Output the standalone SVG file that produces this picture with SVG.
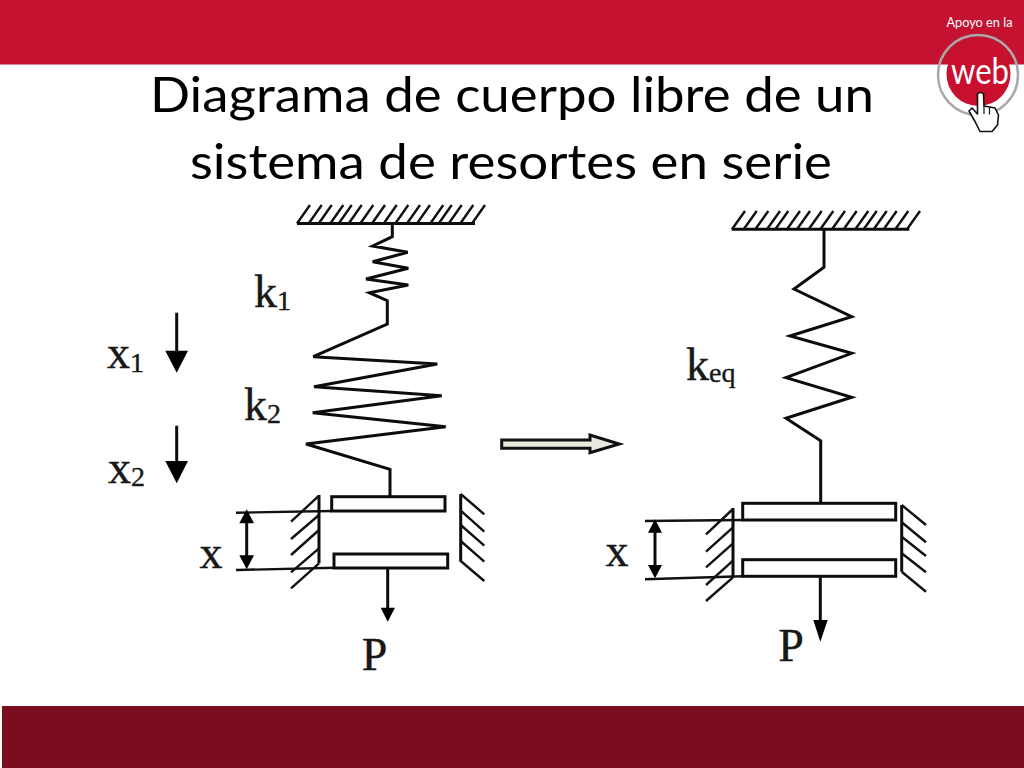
<svg xmlns="http://www.w3.org/2000/svg" width="1024" height="768" viewBox="0 0 1024 768">
<style>
.ln{fill:none;stroke:#0c0c0c;stroke-width:3;stroke-linejoin:miter;stroke-linecap:butt}
.th{fill:none;stroke:#111;stroke-width:2.4}
.hd{fill:#000;stroke:none}
.pl{fill:#fff;stroke:#0c0c0c;stroke-width:3}
.lb{font-family:"Liberation Serif","Times New Roman",serif;fill:#181818;stroke:#181818;stroke-width:.4;font-size:46px}
.sb{font-size:28px}
.tt{font-family:Lato,"Open Sans",sans-serif;font-size:48px;fill:#000;text-anchor:middle}
</style>
<rect width="1024" height="768" fill="#fff"/>
<g id="header"><rect x="0" y="0" width="1024" height="64.500" fill="#c41230"/></g>
<g id="footer"><rect x="2" y="706" width="1022" height="62" fill="#7c0c1f"/></g>
<g id="title">
<text class="tt" x="512" y="112" textLength="724" lengthAdjust="spacingAndGlyphs">Diagrama de cuerpo libre de un</text>
<text class="tt" x="511" y="179" textLength="642" lengthAdjust="spacingAndGlyphs">sistema de resortes en serie</text>
</g>
<g id="logo">
<text x="946.500" y="27" font-family="Lato,'Open Sans',sans-serif" font-size="13.500" fill="#fff" textLength="66" lengthAdjust="spacingAndGlyphs">Apoyo en la</text>
<circle cx="978" cy="75" r="40" fill="none" stroke="#a9a9a9" stroke-width="2.500"/>
<circle cx="978.500" cy="74" r="32" fill="#c8102e"/>
<text x="980" y="84" font-family="Lato,'Open Sans',sans-serif" font-size="36" fill="#fff" text-anchor="middle" textLength="58" lengthAdjust="spacingAndGlyphs">web</text>
<path d="M977.500 94q3-3 6 0l.5 12 11 2 3.500 7-1 10-5.500 6.500h-12l-5-10-6-10.500 3-3 5.500 6z" fill="#fff" stroke="#111" stroke-width="1.600" stroke-linejoin="round"/>
<path d="M984 106v8M989.500 107.500v7" fill="none" stroke="#111" stroke-width="1.200"/>
</g>
<g id="connectors">
<g id="arrow-x1"><path class="ln" d="M176.700 312.700V352"/><polygon class="hd" points="165.300,350.700 188,350.700 176.700,372.700"/></g>
<g id="arrow-x2"><path class="ln" d="M176.700 425.700V463"/><polygon class="hd" points="165.300,461 188,461 176.700,483.300"/></g>
<g id="transform-arrow"><polygon points="501.700,440 590,440 590,435 619.300,444 590,452.700 590,448.300 501.700,448.300" fill="#e9e9df" stroke="#111" stroke-width="3"/></g>
<g id="dim-left">
<path class="th" d="M236 512.700L331.700 511M236 570L335 567.700"/>
<path class="ln" d="M246.700 520V558"/>
<polygon class="hd" points="246.700,509.300 239.300,523.300 254,523.300"/>
<polygon class="hd" points="239.300,555.300 254,555.300 246.700,569.300"/>
</g>
<g id="dim-right">
<path class="th" d="M645 521L742.700 520M645 579.300L742.700 576.300"/>
<path class="ln" d="M655 530V568"/>
<polygon class="hd" points="655,519.300 648,532.700 662,532.700"/>
<polygon class="hd" points="648,565 662,565 655,578.300"/>
</g>
<g id="load-left"><path class="ln" d="M387.700 568V609"/><polygon class="hd" points="380.700,607.700 395,607.700 387.700,621.700"/></g>
<g id="load-right"><path class="ln" d="M820.300 576V622"/><polygon class="hd" points="813.300,620 827.700,620 820.300,641.700"/></g>
</g>
<g id="ceiling-left">
<path class="ln" d="M297 223.500H475"/>
<path class="th" d="M297 223.500l13-18.500M308.700 223.500l13-18.500M318.700 223.500l13-18.500M330.300 223.500l13-18.500M338.700 223.500l13-18.500M348.700 223.500l13-18.500M360.300 223.500l13-18.500M372 223.500l13-18.500M383.700 223.500l13-18.500M395.300 223.500l13-18.500M407 223.500l13-18.500M417 223.500l13-18.500M430.300 223.500l13-18.500M438.700 223.500l13-18.500M448.700 223.500l13-18.500M460.300 223.500l13-18.500M472 223.500l13-18.500"/>
</g>
<g id="springs-series">
<path class="ln" d="M392.300 223V236.700L372.700 246L407.700 252.300L372.700 261.700L408.300 268.300L366 279L408.300 285L369.300 292.700L387.300 300.700V324L313.300 356.700L437.300 364L314 386.700L441.700 395.700L312.700 412.700L445.700 426.700L306 444L390 469.300V497"/>
</g>
<g id="plates-left">
<rect class="pl" x="331.700" y="496.700" width="113.300" height="14.300"/>
<rect class="pl" x="334" y="554" width="113.700" height="14"/>
</g>
<g id="walls-left">
<path class="ln" d="M319 495V563.300M460.700 494V561.700"/>
<path class="th" d="M319 495.700L291 521.700M319 515L291 539M319 530L291 555M319 548.300L291 572.300M319 563.300L291 588.300M460.700 494L484.300 514.300M460.700 510.700L484.300 531.700M460.700 525L484.300 545.700M460.700 541L484.300 561.700M460.700 561L484.300 581"/>
</g>
<g id="ceiling-right">
<path class="ln" d="M731.700 229.300H909.300"/>
<path class="th" d="M732 229.300l13-18.300M743.700 229.300l13-18.300M755.300 229.300l13-18.300M767 229.300l13-18.300M775.300 229.300l13-18.300M787 229.300l13-18.300M797 229.300l13-18.300M808.700 229.300l13-18.300M820.300 229.300l13-18.300M832 229.300l13-18.300M843.700 229.300l13-18.300M855.300 229.300l13-18.300M863.700 229.300l13-18.300M873.700 229.300l13-18.300M883.700 229.300l13-18.300M895.300 229.300l13-18.300M907 229.300l13-18.300"/>
</g>
<g id="spring-equivalent">
<path class="ln" d="M824 229.300V267.300L794 289L851.700 316.700L790 336L851.700 353.300L786 377.700L851.700 397.300L786 418.300L820.700 440.700V503"/>
</g>
<g id="plates-right">
<rect class="pl" x="742.700" y="503.300" width="153" height="16.700"/>
<rect class="pl" x="742.700" y="559.700" width="153" height="16.600"/>
</g>
<g id="walls-right">
<path class="ln" d="M733 508V577.300M901.700 505V571.700"/>
<path class="th" d="M733 509L706 534.300M733 527.300L706 551.700M733 543.300L706 567.300M733 560.700L706 585M733 577.300L706 601M901.700 505L926 525M901.700 522.300L926 542.300M901.700 536.700L926 556M901.700 553.300L926 572.300M901.700 571.700L926 591.700"/>
</g>
<g id="labels">
<text class="lb" x="254" y="306.700">k<tspan class="sb" dy="3.500">1</tspan></text>
<text class="lb" x="244" y="420">k<tspan class="sb" dy="3">2</tspan></text>
<text class="lb" x="107" y="368">x<tspan class="sb" dy="3.500">1</tspan></text>
<text class="lb" x="108" y="482.700">x<tspan class="sb" dy="3">2</tspan></text>
<text class="lb" x="686" y="380">k<tspan class="sb" dy="2">eq</tspan></text>
<text class="lb" x="211" y="568" text-anchor="middle">x</text>
<text class="lb" x="617" y="566" text-anchor="middle">x</text>
<text class="lb" x="374.500" y="670" text-anchor="middle">P</text>
<text class="lb" x="791" y="660.700" text-anchor="middle">P</text>
</g>
</svg>
